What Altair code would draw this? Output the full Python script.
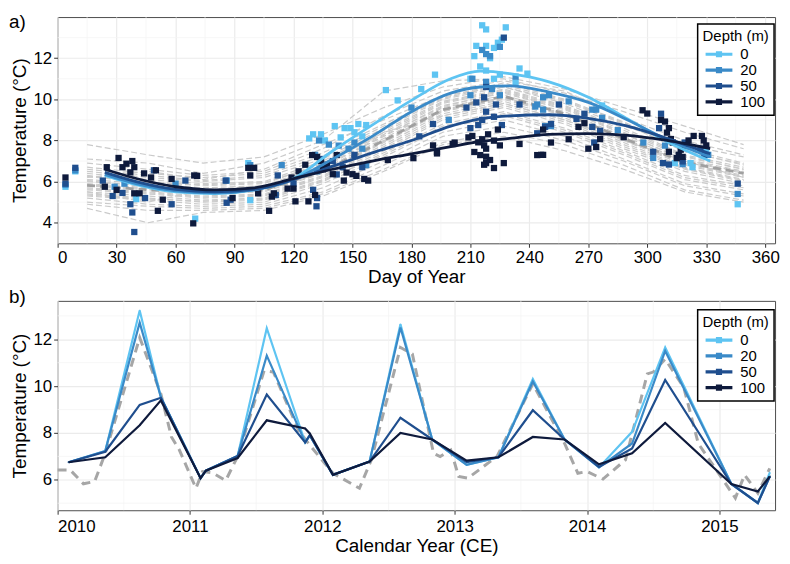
import altair as alt
import pandas as pd

FONT = "Liberation Sans"
DEPTHS = ["0", "20", "50", "100"]
COLORS = ["#5EC4F2", "#3A8AC8", "#1F4E8E", "#0E1A3C"]

# ---------------- panel a: climatology ----------------
A_X_TICKS = [0, 30, 60, 90, 120, 150, 180, 210, 240, 270, 300, 330, 360]
A_X_MINOR = [15, 45, 75, 105, 135, 165, 195, 225, 255, 285, 315, 345]
A_Y_TICKS = [4, 6, 8, 10, 12]
A_Y_MINOR = [5, 7, 9, 11, 13]

MODEL_DAYS = [15, 46, 74, 105, 135, 166, 196, 227, 258, 288, 319, 349]
MODEL_RUNS = [
    [7.8, 7.3, 6.9, 7.2, 8.3, 9.6, 10.6, 11.1, 10.5, 9.6, 8.7, 7.8],
    [7.1, 6.9, 6.4, 6.9, 8.0, 10.4, 10.9, 11.0, 10.3, 9.4, 8.4, 7.6],
    [6.9, 6.6, 6.3, 6.5, 7.6, 9.2, 10.4, 10.9, 10.4, 9.1, 8.0, 7.3],
    [6.7, 6.4, 6.2, 6.4, 7.4, 8.8, 10.1, 10.8, 10.0, 8.9, 7.6, 6.9],
    [6.5, 6.2, 6.0, 6.2, 7.1, 8.6, 10.0, 10.6, 9.9, 8.8, 7.5, 6.8],
    [6.4, 6.1, 5.9, 6.0, 7.0, 8.5, 9.9, 10.5, 9.7, 8.6, 7.3, 6.7],
    [6.3, 6.0, 5.8, 5.9, 6.9, 8.3, 9.8, 10.4, 9.6, 8.4, 7.2, 6.6],
    [6.1, 5.9, 5.7, 5.8, 6.7, 8.2, 9.7, 10.3, 9.5, 8.3, 7.1, 6.5],
    [6.0, 5.8, 5.6, 5.7, 6.6, 8.1, 9.6, 10.2, 9.4, 8.2, 7.0, 6.4],
    [5.9, 5.7, 5.5, 5.6, 6.5, 8.0, 9.5, 10.1, 9.3, 8.1, 6.9, 6.3],
    [5.8, 5.6, 5.4, 5.5, 6.4, 7.9, 9.4, 10.0, 9.2, 8.0, 6.8, 6.2],
    [5.7, 5.5, 5.3, 5.4, 6.3, 7.8, 9.3, 9.9, 9.1, 7.9, 6.7, 6.1],
    [5.6, 5.4, 5.2, 5.3, 6.2, 7.6, 9.1, 9.7, 8.9, 7.7, 6.6, 6.0],
    [5.5, 5.3, 5.1, 5.2, 6.1, 7.5, 9.0, 9.6, 8.8, 7.6, 6.5, 5.9],
    [5.4, 5.2, 5.0, 5.1, 6.0, 7.4, 8.8, 9.4, 8.6, 7.5, 6.3, 5.8],
    [5.3, 5.1, 4.9, 5.0, 5.9, 7.2, 8.6, 9.2, 8.4, 7.3, 6.1, 5.6],
    [5.2, 4.9, 4.8, 4.9, 5.7, 7.0, 8.4, 9.0, 8.2, 7.1, 5.9, 5.4],
    [5.0, 4.8, 4.7, 4.8, 5.5, 6.8, 8.2, 8.7, 8.0, 7.0, 5.8, 5.3],
    [4.9, 4.6, 4.6, 4.7, 5.4, 6.6, 7.9, 8.4, 7.8, 6.8, 5.6, 5.1],
    [4.7, 4.0, 4.5, 4.6, 5.3, 6.5, 7.8, 8.2, 7.5, 6.6, 5.5, 5.0],
    [6.2, 6.5, 6.1, 6.6, 7.8, 9.0, 10.2, 10.6, 9.8, 8.7, 7.8, 7.2],
    [5.5, 5.0, 5.6, 5.8, 6.8, 8.4, 9.2, 9.8, 9.0, 8.0, 7.0, 6.2],
    [6.05, 5.75, 5.55, 5.75, 6.75, 8.25, 9.65, 10.35, 9.55, 8.35, 7.05, 6.45],
    [5.85, 5.65, 5.45, 5.55, 6.45, 7.95, 9.45, 10.05, 9.25, 8.05, 6.85, 6.25],
    [5.65, 5.45, 5.25, 5.35, 6.25, 7.7, 9.2, 9.8, 9.0, 7.8, 6.65, 6.05],
    [6.25, 5.95, 5.85, 5.95, 6.85, 8.4, 9.85, 10.45, 9.65, 8.5, 7.25, 6.6],
    [5.35, 5.15, 5.05, 5.15, 6.05, 7.3, 8.7, 9.3, 8.5, 7.4, 6.2, 5.7],
    [6.6, 6.3, 6.05, 6.3, 7.25, 8.7, 10.05, 10.7, 9.95, 8.85, 7.45, 6.85],
]
MODEL_MEAN = [5.82, 5.6, 5.45, 5.6, 6.5, 8.0, 9.5, 10.15, 9.3, 8.1, 6.95, 6.4]

SMOOTH_DAYS = [24, 40, 60, 80, 100, 120, 140, 160, 180, 200, 215, 230, 250, 270, 290, 310, 332]
SMOOTH_0 = [6.3, 5.85, 5.5, 5.42, 5.6, 6.15, 7.5, 8.75, 9.95, 11.0, 11.37, 11.25, 10.85, 10.1, 9.05, 7.95, 7.0]
SMOOTH_20 = [6.35, 5.9, 5.55, 5.45, 5.6, 6.1, 7.1, 8.2, 9.4, 10.3, 10.6, 10.65, 10.35, 9.85, 9.0, 8.05, 7.2]
SMOOTH_50 = [6.45, 6.0, 5.62, 5.5, 5.62, 6.1, 6.75, 7.4, 8.0, 8.7, 9.05, 9.2, 9.25, 9.08, 8.7, 8.1, 7.35]
SMOOTH_100 = [6.6, 6.15, 5.75, 5.6, 5.7, 6.15, 6.6, 7.0, 7.35, 7.7, 7.95, 8.1, 8.3, 8.33, 8.25, 8.0, 7.6]

PTS_0 = [(4, 5.75), (9, 6.5), (40, 5.15), (70, 4.2), (97, 6.9), (98, 5.1), (128, 8.1), (130, 8.3),
         (134, 8.3), (136, 8.0), (141, 8.7), (144, 8.15), (146, 8.6), (149, 8.6), (151, 8.4),
         (153, 8.8), (155, 8.2), (157, 8.75), (167, 10.45), (173, 9.95), (185, 10.5), (192, 11.2),
         (210, 11.0), (212, 12.1), (213, 12.6), (215, 11.6), (216, 13.6), (218, 13.4), (218, 12.6),
         (218, 11.4), (220, 12.0), (222, 12.5), (222, 11.0), (224, 12.75), (225, 11.2), (226, 12.9),
         (228, 13.5), (233, 10.8), (235, 11.5), (239, 11.25), (277, 9.7), (314, 6.9), (322, 6.9),
         (323, 6.7), (330, 7.5), (346, 4.9)]
PTS_20 = [(4, 5.85), (9, 6.55), (29, 5.75), (34, 5.9), (60, 5.9), (86, 6.05), (98, 6.8), (114, 6.8),
          (131, 7.3), (133, 8.0), (138, 7.8), (143, 7.75), (148, 7.6), (151, 7.9), (155, 7.6),
          (157, 6.8), (132, 6.5), (180, 9.6), (199, 9.0), (210, 10.2), (211, 11.0), (216, 12.4),
          (218, 12.2), (218, 10.85), (220, 12.1), (221, 10.5), (225, 12.55), (225, 10.2), (233, 11.1),
          (243, 9.65), (244, 9.75), (247, 9.5), (250, 10.2), (260, 9.9), (272, 9.5), (274, 9.5),
          (277, 9.1), (285, 8.5), (298, 7.9), (303, 7.15), (309, 7.75), (318, 6.85), (331, 7.3),
          (346, 5.4), (247, 10.1), (248, 8.7), (251, 8.7)]
PTS_50 = [(4, 5.9), (9, 6.67), (23, 6.05), (28, 5.3), (33, 5.45), (37, 4.9), (38, 4.5), (39, 3.55),
          (44.5, 5.2), (49, 6.55), (58, 4.9), (65, 6.05), (85.5, 6.05), (86, 4.97), (88, 5.12),
          (112, 6.3), (111, 5.35), (120, 5.9), (130, 5.6), (131.7, 4.8), (132, 5.2), (134, 7.1),
          (136, 6.8), (140, 7.0), (142, 6.35), (145, 6.7), (151, 7.3), (155, 6.7), (184, 8.2),
          (191, 8.8), (208, 9.6), (210, 8.6), (213, 9.85), (214, 8.75), (216, 9.0), (217, 10.1),
          (218, 10.6), (218, 9.4), (222, 9.15), (223, 9.75), (226, 8.75), (227, 13.0), (235, 9.75),
          (244, 8.35), (248, 8.66), (251, 8.8), (255, 9.75), (264, 9.05), (268, 9.3), (272, 8.66),
          (273, 7.9), (276, 8.47), (303, 7.45), (306, 8.6), (307, 9.3), (308, 6.9), (311, 6.83),
          (319, 7.9), (327, 7.6), (329, 7.3), (318, 6.98), (346, 5.9)]
PTS_100 = [(4, 6.2), (25, 6.7), (24, 5.75), (30, 5.6), (31, 7.15), (33, 6.7), (35, 6.87), (37, 6.45),
           (38, 7.0), (39, 6.7), (39, 5.43), (41.7, 5.43), (44, 6.4), (47.5, 6.2), (50, 6.55),
           (51, 4.58), (53.5, 5.12), (58, 6.13), (69, 3.97), (69.5, 6.3), (71, 6.28), (89, 5.2),
           (97, 6.67), (98, 6.3), (100, 6.67), (102, 5.43), (107.6, 4.58), (109, 5.27), (110, 5.43),
           (117, 5.66), (119, 6.2), (120, 5.66), (121, 5.04), (122.6, 6.5), (126, 6.82), (127.6, 5.04),
           (129.5, 7.29), (131, 5.35), (132, 7.2), (134, 7.0), (135, 6.6), (137, 6.82), (140, 6.36),
           (142, 7.29), (145.6, 6.05), (147, 6.44), (150, 6.36), (152, 6.28), (156, 6.13), (158, 6.05),
           (168, 7.05), (181, 7.14), (191, 7.76), (193, 7.44), (193, 7.37), (201, 7.83), (202, 7.9),
           (209, 8.15), (211, 8.22), (212, 7.44), (214, 7.91), (215, 7.29), (216, 8.06), (217, 7.76),
           (217, 6.82), (218, 7.6), (218, 7.21), (218, 6.9), (219, 8.3), (220, 7.05), (222, 6.66),
           (222, 7.99), (224, 8.53), (225, 7.76), (227, 6.9), (235, 7.83), (244, 7.29), (246, 7.3),
           (247, 7.3), (247, 8.53), (251, 7.9), (260, 8.06), (265, 8.66), (268, 8.84), (270, 7.6),
           (274, 7.68), (276, 8.07), (288, 8.16), (297.6, 9.47), (300, 9.31), (307, 9.0), (309, 8.92),
           (310, 8.38), (311, 8.6), (312, 8.07), (313, 7.9), (315, 7.14), (316, 7.3), (317, 7.55),
           (318, 7.2), (319, 7.76), (321, 8.0), (323.6, 8.22), (327.8, 8.22), (328.7, 8.0), (330, 7.76),
           (311, 7.45)]

# ---------------- panel b: time series ----------------
B_X_TICKS = [2010, 2011, 2012, 2013, 2014, 2015]
B_X_MINOR = [2010.5, 2011.5, 2012.5, 2013.5, 2014.5]
B_Y_TICKS = [6, 8, 10, 12]
B_Y_MINOR = [5, 7, 9, 11, 13]

B_MODEL_T = [2010.0, 2010.095, 2010.195, 2010.28, 2010.36, 2010.62, 2010.78, 2010.86, 2010.92, 2011.045,
             2011.095, 2011.17, 2011.27, 2011.36, 2011.56, 2011.63, 2011.82, 2011.895, 2012.08, 2012.28,
             2012.37, 2012.59, 2012.68, 2012.84, 2012.89, 2012.97, 2013.03, 2013.1, 2013.32, 2013.59,
             2013.83, 2013.93, 2014.0, 2014.12, 2014.29, 2014.455, 2014.5, 2014.59, 2014.73, 2014.84,
             2015.12, 2015.19, 2015.29, 2015.38]
B_MODEL_V = [6.42, 6.42, 5.83, 5.93, 7.13, 12.07, 9.67, 7.83, 7.27, 5.64,
             6.35, 6.3, 5.97, 7.0, 10.66, 10.6, 8.12, 7.55, 6.28, 5.64,
             6.85, 11.65, 11.37, 7.13, 6.99, 7.27, 6.14, 6.07, 7.0, 10.1,
             7.55, 6.28, 6.35, 6.03, 6.85, 10.52, 10.6, 11.15, 9.95, 7.55,
             5.22, 6.21, 5.43, 6.49]

B_T = [2010.083, 2010.36, 2010.62, 2010.78, 2011.08, 2011.12, 2011.36, 2011.58, 2011.87, 2011.905,
       2012.08, 2012.357, 2012.59, 2012.83, 2013.09, 2013.33, 2013.59, 2013.83, 2014.09, 2014.34,
       2014.59, 2015.09, 2015.29, 2015.38]
B_0 = [6.75, 7.23, 13.23, 9.53, 6.07, 6.39, 7.02, 12.47, 7.6, 7.9, 6.21, 6.78, 12.64, 7.72, 6.64,
       6.96, 10.3, 7.72, 6.53, 8.05, 11.65, 5.82, 5.01, 6.31]
B_20 = [6.75, 7.23, 12.71, 9.53, 6.07, 6.39, 7.02, 11.3, 7.6, 7.9, 6.21, 6.78, 12.5, 7.72, 6.64,
        6.96, 10.2, 7.72, 6.53, 7.55, 11.5, 5.82, 5.01, 6.14]
B_50 = [6.75, 7.2, 9.2, 9.5, 6.07, 6.39, 7.02, 9.64, 7.6, 7.9, 6.21, 6.78, 8.65, 7.72, 6.75,
        6.96, 8.97, 7.72, 6.55, 7.34, 10.26, 5.82, 5.01, 6.14]
B_100 = [6.75, 6.96, 8.33, 9.39, 6.07, 6.39, 6.93, 8.54, 8.19, 7.98, 6.21, 6.78, 8.0, 7.72, 6.82,
         6.96, 7.83, 7.72, 6.66, 7.13, 8.43, 5.82, 5.5, 6.14]


# ---------------- tables ----------------
def long_df(xname, xs, series):
    rows = []
    for d, vals in series.items():
        for x, v in zip(xs, vals):
            rows.append({xname: x, "temp": v, "depth": d})
    return pd.DataFrame(rows)


runs_rows = []
for i, run in enumerate(MODEL_RUNS):
    for d, v in zip(MODEL_DAYS, run):
        runs_rows.append({"day": d, "temp": v, "run": i})
runs_df = pd.DataFrame(runs_rows)
mean_df = pd.DataFrame({"day": MODEL_DAYS, "temp": MODEL_MEAN})
smooth_df = long_df("day", SMOOTH_DAYS, {"0": SMOOTH_0, "20": SMOOTH_20, "50": SMOOTH_50, "100": SMOOTH_100})
pts_rows = []
for d, pts in zip(DEPTHS, [PTS_0, PTS_20, PTS_50, PTS_100]):
    for x, v in pts:
        pts_rows.append({"day": x, "temp": v, "depth": d})
pts_df = pd.DataFrame(pts_rows)

bmodel_df = pd.DataFrame({"year": B_MODEL_T, "temp": B_MODEL_V})
bdepth_df = long_df("year", B_T, {"0": B_0, "20": B_20, "50": B_50, "100": B_100})

# ---------------- encodings ----------------
color_scale = alt.Scale(domain=DEPTHS, range=COLORS)
SYM = "M-2.7,-0.32H2.7V0.32H-2.7Z M-0.62,-0.62H0.62V0.62H-0.62Z"


def legend(ly):
    return alt.Legend(title="Depth (m)", orient="none", legendX=645, legendY=ly, padding=5,
                      strokeColor="black", fillColor="white", symbolType=SYM, symbolSize=100,
                      symbolStrokeWidth=0, symbolOffset=9, labelOffset=14, rowPadding=-1,
                      titleFontSize=15, labelFontSize=15, titleFontWeight="normal",
                      titleFont=FONT, labelFont=FONT, titlePadding=3,
                      labelColor="black", titleColor="black")


xa = alt.X("day:Q", scale=alt.Scale(domain=[0, 365], nice=False, zero=False),
           axis=alt.Axis(values=A_X_TICKS, title="Day of Year", titlePadding=2))
ya = alt.Y("temp:Q", scale=alt.Scale(domain=[3, 14], nice=False, zero=False),
           axis=alt.Axis(values=A_Y_TICKS, title="Temperature (°C)"))

minor_style = dict(color="#F3F3F3", strokeWidth=0.7)

a_minor_x = alt.Chart(pd.DataFrame({"day": A_X_MINOR})).mark_rule(**minor_style).encode(x=xa)
a_minor_y = alt.Chart(pd.DataFrame({"temp": A_Y_MINOR})).mark_rule(**minor_style).encode(y=ya)
a_runs = alt.Chart(runs_df).mark_line(color="#CACACA", strokeWidth=1.2, strokeDash=[6, 3]).encode(
    x=xa, y=ya, detail="run:N")
a_mean = alt.Chart(mean_df).mark_line(color="#A0A0A0", strokeWidth=2.8, strokeDash=[8, 5]).encode(x=xa, y=ya)
a_pts = alt.Chart(pts_df).mark_square(size=40, opacity=1).encode(
    x=xa, y=ya, color=alt.Color("depth:N", scale=color_scale, sort=DEPTHS, legend=legend(7)))
a_smooth = alt.Chart(smooth_df).mark_line(strokeWidth=2.8, interpolate="monotone").encode(
    x=xa, y=ya, color=alt.Color("depth:N", scale=color_scale, sort=DEPTHS, legend=None))
a_lab = alt.Chart(pd.DataFrame({"lab": ["a)"]})).mark_text(
    align="left", baseline="top", fontSize=19, font=FONT, color="black").encode(
    text="lab:N", x=alt.value(-49), y=alt.value(-4))

panel_a = alt.layer(a_minor_x, a_minor_y, a_runs, a_mean, a_pts, a_smooth, a_lab).properties(
    width=723, height=228)

xb = alt.X("year:Q", scale=alt.Scale(domain=[2010, 2015.42], nice=False, zero=False),
           axis=alt.Axis(values=B_X_TICKS, format="d", title="Calendar Year (CE)", labelPadding=4))
yb = alt.Y("temp:Q", scale=alt.Scale(domain=[4.7, 13.64], nice=False, zero=False),
           axis=alt.Axis(values=B_Y_TICKS, title="Temperature (°C)"))

b_minor_x = alt.Chart(pd.DataFrame({"year": B_X_MINOR})).mark_rule(**minor_style).encode(x=xb)
b_minor_y = alt.Chart(pd.DataFrame({"temp": B_Y_MINOR})).mark_rule(**minor_style).encode(y=yb)
b_model = alt.Chart(bmodel_df).mark_line(color="#A6A6A6", strokeWidth=3, strokeDash=[9, 6]).encode(x=xb, y=yb)
b_leg = alt.Chart(bdepth_df).mark_square(size=2, opacity=1).encode(
    x=xb, y=yb, color=alt.Color("depth:N", scale=color_scale, sort=DEPTHS, legend=legend(9)))
b_lines = alt.Chart(bdepth_df).mark_line(strokeWidth=2.2).encode(
    x=xb, y=yb, color=alt.Color("depth:N", scale=color_scale, sort=DEPTHS, legend=None))
b_lab = alt.Chart(pd.DataFrame({"lab": ["b)"]})).mark_text(
    align="left", baseline="top", fontSize=19, font=FONT, color="black").encode(
    text="lab:N", x=alt.value(-49), y=alt.value(-13))

panel_b = alt.layer(b_minor_x, b_minor_y, b_model, b_leg, b_lines, b_lab).properties(
    width=723, height=211)

chart = alt.vconcat(panel_a, panel_b, spacing=0).resolve_scale(
    color="independent").resolve_legend(color="independent").properties(
    padding={"left": 0, "top": 2, "right": 2, "bottom": 0}
).configure(font=FONT).configure_view(
    stroke="#4D4D4D", strokeWidth=1
).configure_axis(
    domain=False, grid=True, gridColor="#EBEBEB", gridWidth=1.2,
    tickColor="#333333", tickSize=4, tickWidth=1,
    labelFont=FONT, labelFontSize=17, labelColor="black", labelPadding=2,
    titleFont=FONT, titleFontSize=19, titleFontWeight="normal", titleColor="black", titlePadding=3
).configure_legend(strokeWidth=1.5)

chart.save("out.html", embed_options={"renderer": "svg", "actions": False})
